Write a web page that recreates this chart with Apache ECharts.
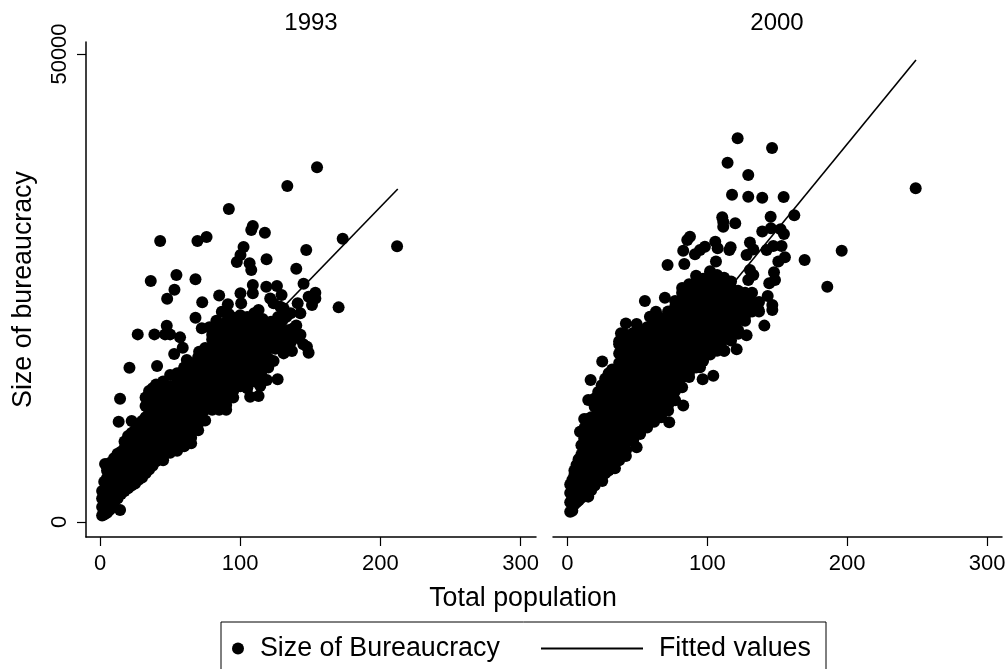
<!DOCTYPE html>
<html>
<head>
<meta charset="utf-8">
<title>Size of bureaucracy</title>
<script src="https://cdn.jsdelivr.net/npm/echarts@6/dist/echarts.min.js"></script>
<style>
html, body { margin: 0; padding: 0; background: #fff; }
#chart { width: 1006px; height: 669px; }
</style>
</head>
<body>
<div id="chart"></div>
<script>
let xTicks = [0, 100, 200, 300];
let yTicks = [0, 50000];

let outliers1993 = [
    [154.8,37890],[133.6,35900],[91.9,33440],[109,31625],[107.9,31190],[117.6,30910],[173.1,30270],[211.9,29450],
    [42.9,30020],[69.5,30020],[76,30450],[102.4,29375],[100.2,28520],[97.6,27780],[147.1,29060],[118.8,28060],
    [106.7,27640],[107.9,26925],[140,27065],[54.5,26390],[36.2,25750],[68.1,25925],[53.1,24820],[47.9,23860],
    [72.9,23470],[85,24210],[100.2,24430],[109,25320],[109,24430],[118.6,25140],[126.2,25210],[145.2,25460],
    [153.6,24500],[148.8,24070],[153.6,23890],[141,23360],[151.2,23185],[142.9,22295],[170.2,22930],[129.5,24250],
    [121.4,23890],[123.8,23360],[100.7,23360],[91.2,23255],[86.9,22470],[113.1,22650],[68.1,21830],[47.6,20975],
    [26.9,20045],[38.8,20045],[46.4,20045],[50,20045],[57.1,19725],[59,18625],[52.9,17945],[70.7,18200],
    [61.9,17305],[40.7,16665],[21,16490],[14.3,13175],[13.3,10715],[22.6,10790],[3.6,6195],[14.3,1280],
    [148.8,18090],[147.6,18730],[136.9,18270],[131,18015],[123.8,17205],[141.7,19625],[138,20690],[126.7,15245],
    [119,15165],[114.3,14530],[113.1,13460],[107.1,13385],[81,20870],[72.6,20690],[88,20335],[133,21935],[128.6,23000],
    [92,22200],[96,21800],[83,21500],[78,20800],[105,21900],[110,22300],[116,21700],[122,21400],[127,21900],
    [131,22800],[136,22300],[140,21000],[126,19900],[143,20000],[145,19000],[136,19200]
];
// the dense part, estimated column by column [population, [sizes]]
let columns1993 = [
    [1.5,[700,1600,2500,3300]],
    [3,[800,1500,2400,3400,4300]],
    [5,[1000,1900,2900,3800,4700,5500]],
    [7,[1300,2300,3300,4400,5400,6300]],
    [10,[2100,3000,4200,5300,6200,6800]],
    [12.5,[2500,3600,4700,5800,6900,7300]],
    [15,[3000,4100,5200,6300,7500]],
    [17.5,[3300,4500,5600,6700,7900,8600]],
    [20,[3600,4700,5900,7000,8100,9200]],
    [22.5,[3900,5000,6200,7400,8500,9500]],
    [25,[4100,5200,6400,7500,8700,9800]],
    [27.5,[4500,5600,6800,8000,9100,10200]],
    [30,[4750,5900,7100,8300,9500,10800]],
    [32.5,[5200,6400,7600,8800,10000,11200,12400,13300]],
    [35,[5600,6800,8000,9200,10400,11600,12800,14000]],
    [37.5,[6000,7100,8300,9500,10700,11900,13100,14300]],
    [40,[6500,7500,8500,9500,10500,11500,12500,13500,14700]],
    [45,[6600,7000,8000,9000,10000,11000,12000,13000,14000,15000]],
    [50,[7400,8500,9500,10500,11500,12500,13500,14500,15700]],
    [55,[7600,8000,9000,10000,11000,12000,13000,14000,15000,15900]],
    [60,[8100,8500,9500,10500,11500,12500,13500,14500,15500,16500]],
    [65,[8400,9000,10000,11000,12000,13000,14000,15000,16000,16900]],
    [70,[9800,10500,11500,12500,13500,14500,15500,16500,17600]],
    [75,[10850,12000,13000,14000,15000,16000,17000,18000,18600]],
    [80,[12000,12500,13500,14500,15500,16500,17500,18500,19500,20000]],
    [85,[12000,13000,14000,15000,16000,17000,18000,19000,20000,20700]],
    [90,[12000,12500,13500,14500,15500,16500,17500,18500,19500,20500,21400]],
    [95,[13300,14000,15000,16000,17000,18000,19000,20000,21000]],
    [100,[14500,15500,16500,17500,18500,19500,20500,21500,22100]],
    [105,[14300,15000,16000,17000,18000,19000,20000,21000]],
    [110,[15000,15500,16500,17500,18500,19500,20500,21400]],
    [115,[15500,16000,17000,18000,19000,20000,20800]],
    [120,[16500,17500,18500,19500,20500]],
    [125,[18500,19000,20000,20800]],
    [130,[18500,19500,20500,21500]],
    [135,[19000,20000,20500]]
];
let fit1993 = [[1, 2900], [212.4, 35570]];

let outliers2000 = [
    [121.7,40990],[146.3,39960],[114.5,38390],[129.3,37075],[249,35650],[117.7,34970],[129.3,34760],[139.3,34650],
    [154.6,34720],[162.2,32760],[145.3,32620],[110.7,32550],[111.4,32090],[120,31905],[111.4,31555],[139.3,31025],
    [145.5,31375],[152.4,31265],[154.8,30770],[87.6,30480],[85.7,30130],[105.7,29950],[107.4,29235],[98.3,29415],
    [94.8,29060],[82.8,28990],[116.7,29345],[115.8,29060],[130.5,29850],[132.9,29125],[153.1,29485],[142.4,29060],
    [147.2,29485],[196.1,28990],[169.6,27990],[155.5,28275],[128.1,28520],[91.2,28600],[71.6,27460],[83.6,27565],
    [106.2,27820],[150.8,27820],[130.5,26925],[132.9,26390],[147.7,26675],[185.8,25140],[148.4,25850],[144.3,25500],
    [129.3,25850],[55.4,23610],[69.7,23970],[140.8,20980],[128.1,19945],[121,18450],[112.2,18305],[146.5,22650],
    [146.5,23190],[143.2,24145],[136.5,22715],[119.8,20870],[104.3,15635],[96.7,15245],[94.8,16520],[82.8,12435],
    [72.8,10645],[49.5,7975],[41.8,7050],[34,5735],[24.9,4380],[14.9,2710],[9,9650],[14.9,13035],
    [16.6,15165],[24.9,17135],[41.8,21220],[49.5,21150],[38.3,20155],[40,19445],[63.3,22465],[59,21935]
];
let columns2000 = [
    [2,[1100,2100,3100,4000]],
    [3.5,[1200,2200,3300,4500]],
    [5,[1900,2900,4000,5000,5500]],
    [6.5,[2100,3100,4200,5300,6100]],
    [8,[2300,3400,4500,5600,6700]],
    [10,[2600,3700,4900,6000,7200,8200]],
    [12,[3000,4100,5300,6500,7700,8900,10000,11000]],
    [14.5,[3200,4400,5600,6800,8000,9200,10400,11000]],
    [17,[3400,4600,5800,7000,8200,9400,10600,11200]],
    [19.5,[3900,5100,6300,7500,8700,9900,11100,12300,13200]],
    [22,[4500,5700,6900,8100,9300,10500,11700,12900,13900]],
    [24.5,[4800,6000,7200,8400,9600,10800,12000,13200,14600]],
    [27,[5200,6400,7600,8800,10000,11200,12400,13600,14800,15300]],
    [29.5,[5500,6700,7900,9100,10300,11500,12700,13900,15100,15900]],
    [32,[5900,6500,7500,8500,9500,10500,11500,12500,13500,14500,15500,16300]],
    [37,[6600,7000,8000,9000,10000,11000,12000,13000,14000,15000,16000,17000,18000,19000,19300]],
    [42,[7700,8500,9500,10500,11500,12500,13500,14500,15500,16500,17500,18500,19500,20000]],
    [47,[8700,9000,10000,11000,12000,13000,14000,15000,16000,17000,18000,19000,20000,20200]],
    [52,[9400,10500,11500,12500,13500,14500,15500,16500,17500,18500,19500,20400]],
    [57,[10100,11000,12000,13000,14000,15000,16000,17000,18000,19000,20000,20800]],
    [62,[10700,11500,12500,13500,14500,15500,16500,17500,18500,19500,20500,21600]],
    [67,[11200,12000,13000,14000,15000,16000,17000,18000,19000,20000,21000,21800]],
    [72,[11900,12500,13500,14500,15500,16500,17500,18500,19500,20500,21500,22500]],
    [77,[13000,14000,15000,16000,17000,18000,19000,20000,21000,22000,23000,23600]],
    [82,[14400,15500,16500,17500,18500,19500,20500,21500,22500,23500,24500,25000]],
    [87,[15500,16000,17000,18000,19000,20000,21000,22000,23000,24000,25000,25400]],
    [92,[16500,17500,18500,19500,20500,21500,22500,23500,24500,25500,26300]],
    [97,[17200,18000,19000,20000,21000,22000,23000,24000,25000,26000]],
    [102,[17900,18500,19500,20500,21500,22500,23500,24500,25500,26500,26800]],
    [107,[18300,19000,20000,21000,22000,23000,24000,25000,26000,26400]],
    [112,[18300,19500,20500,21500,22500,23500,24500,25500,26100]],
    [117,[19400,20000,21000,22000,23000,24000,25000,25700]],
    [122,[20100,20500,21500,22500,23500,24500,24700]],
    [127,[21500,22000,23000,24000,24500]],
    [132,[22500,23500,24500]],
    [137,[22500,23500]]
];
let fit2000 = [[1, 4030], [249.2, 49360]];

// builds the scatter data out of the outliers and the column lists
function make_points(outliers, columns)
{
    let points = outliers.slice();
    columns.forEach( col => {
        col[1].forEach( size => {
            points.push([col[0], size]);
        })
    })
    return points;
}

var myChart = echarts.init(document.getElementById("chart"));

let fontName = "'Liberation Sans', Arial, sans-serif";
let axisLine = { show: true, onZero: false, lineStyle: { color: '#000', width: 1.5 } };
let titleStyle = { fontFamily: fontName, fontSize: 24, fontWeight: 'normal', color: '#000' };

function make_xaxis(gridIndex, minVal, maxVal)
{
    return {
        type: 'value',
        gridIndex: gridIndex,
        min: minVal,
        max: maxVal,
        splitLine: { show: false },
        axisLine: axisLine,
        axisTick: { show: true, length: 9, customValues: xTicks, lineStyle: { color: '#000', width: 1.2 } },
        axisLabel: { show: true, customValues: xTicks, color: '#000', fontFamily: fontName, fontSize: 22, margin: 16, hideOverlap: false }
    };
}

let option = {
    animation: false,
    backgroundColor: '#fff',
    textStyle: { fontFamily: fontName, color: '#000' },
    title: [
        { text: '1993', left: 311, top: 11, padding: 0, textAlign: 'center', textStyle: titleStyle },
        { text: '2000', left: 777, top: 11, padding: 0, textAlign: 'center', textStyle: titleStyle },
        { text: 'Total population', left: 523, top: 585, padding: 0, textAlign: 'center', textStyle: { fontFamily: fontName, fontSize: 26.8, fontWeight: 'normal', color: '#000' } }
    ],
    grid: [
        { left: 86, top: 42, width: 450, height: 495, outerBoundsMode: 'none' },
        { left: 553, top: 42, width: 449, height: 495, outerBoundsMode: 'none' }
    ],
    xAxis: [make_xaxis(0, -10, 311), make_xaxis(1, -10.3, 310.7)],
    yAxis: [
        {
            type: 'value',
            gridIndex: 0,
            min: -1603,
            max: 51282,
            name: 'Size of bureaucracy',
            nameLocation: 'middle',
            nameGap: 49,
            nameRotate: 90,
            nameMoveOverlap: false,
            nameTextStyle: { fontFamily: fontName, fontSize: 26.8, color: '#000' },
            splitLine: { show: false },
            axisLine: axisLine,
            axisTick: { show: true, length: 9, customValues: yTicks, lineStyle: { color: '#000', width: 1.2 } },
            axisLabel: { show: true, customValues: yTicks, rotate: 90, color: '#000', fontFamily: fontName, fontSize: 22, margin: 15, formatter: function (v) { return String(v); } }
        },
        {
            type: 'value',
            gridIndex: 1,
            min: -1603,
            max: 51282,
            show: false,
            splitLine: { show: false }
        }
    ],
    legend: [
        {
            left: 227,
            top: 630,
            data: ['Size of Bureaucracy'],
            itemWidth: 12,
            itemHeight: 12,
            selectedMode: false,
            textStyle: { fontFamily: fontName, fontSize: 26.8, color: '#000', padding: [4, 0, 0, 11] }
        },
        {
            left: 536,
            top: 630,
            data: [{ name: 'Fitted values', icon: 'rect' }],
            itemWidth: 102,
            itemHeight: 2,
            selectedMode: false,
            itemStyle: { color: '#000' },
            textStyle: { fontFamily: fontName, fontSize: 26.8, color: '#000', padding: [4, 0, 0, 11] }
        }
    ],
    graphic: [
        { type: 'rect', shape: { x: 221, y: 622, width: 605, height: 60 }, style: { fill: 'none', stroke: '#000', lineWidth: 1 }, silent: true }
    ],
    series: [
        { name: 'Size of Bureaucracy', type: 'scatter', xAxisIndex: 0, yAxisIndex: 0, symbol: 'circle', symbolSize: 12, itemStyle: { color: '#000', opacity: 1 }, data: make_points(outliers1993, columns1993) },
        { name: 'Fitted values', type: 'line', xAxisIndex: 0, yAxisIndex: 0, showSymbol: false, symbol: 'none', lineStyle: { color: '#000', width: 1.6 }, itemStyle: { color: '#000' }, data: fit1993 },
        { name: 'Size of Bureaucracy', type: 'scatter', xAxisIndex: 1, yAxisIndex: 1, symbol: 'circle', symbolSize: 12, itemStyle: { color: '#000', opacity: 1 }, data: make_points(outliers2000, columns2000) },
        { name: 'Fitted values', type: 'line', xAxisIndex: 1, yAxisIndex: 1, showSymbol: false, symbol: 'none', lineStyle: { color: '#000', width: 1.6 }, itemStyle: { color: '#000' }, data: fit2000 }
    ]
};
myChart.setOption(option);
</script>
</body>
</html>
